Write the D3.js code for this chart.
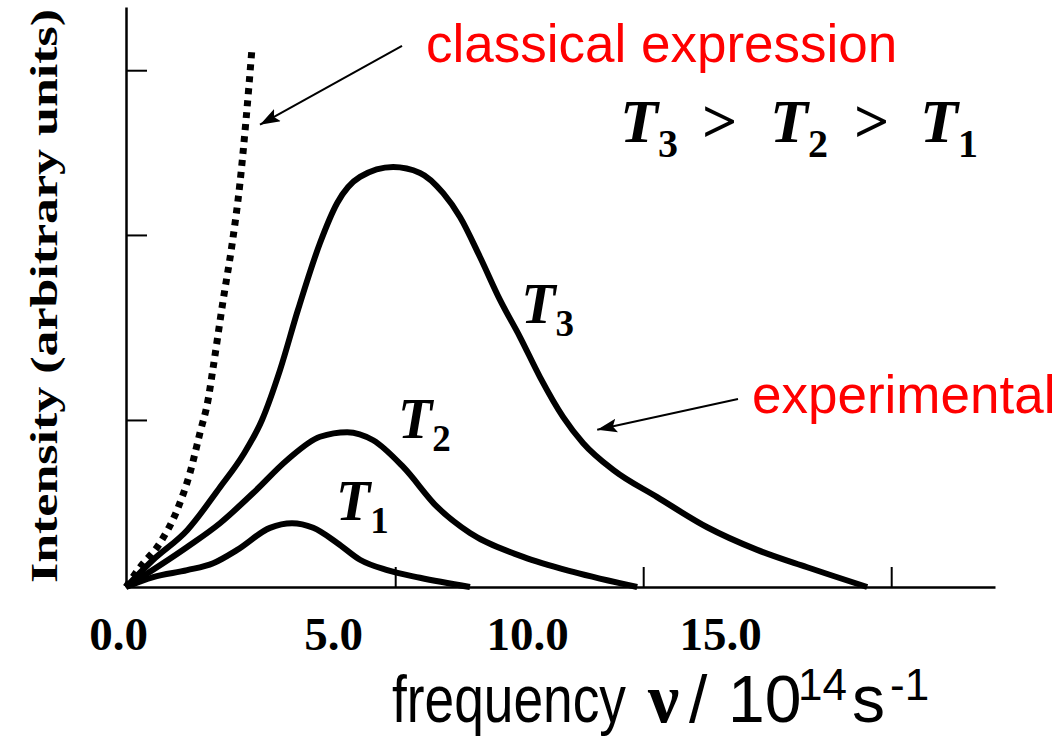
<!DOCTYPE html>
<html>
<head>
<meta charset="utf-8">
<script src="https://cdn.jsdelivr.net/npm/d3@7"></script>
<style>
  body { margin: 0; background: #fff; }
  svg { display: block; }
</style>
</head>
<body>
<div id="chart"></div>
<script>
// frequency (10^14 s^-1) vs intensity (arbitrary units)
var t1 = [[0,0],[0.68,1.7],[1.53,2.9],[2.18,4.1],[2.78,6.4],[3.6,10.2],[4.15,11.0],[4.68,10.2],[5.28,7.6],[5.85,4.7],[6.53,2.9],[7.35,1.6],[8.6,0]]
var t2 = [[0,0],[1.53,6.9],[2.35,11.0],[3.18,16.2],[4.03,21.9],[4.85,25.9],[5.53,26.7],[6.18,25.3],[6.93,20.7],[7.78,13.8],[8.6,9.3],[9.93,5.2],[11.18,2.6],[12.78,0]]
var t3 = [[0,0],[0.68,4.7],[1.53,9.8],[2.35,17.2],[2.93,22.8],[3.4,28.8],[3.85,37.4],[4.3,47.8],[4.85,59.3],[5.28,66.2],[5.85,70.7],[6.68,72.4],[7.35,71.4],[7.93,67.9],[8.35,63.8],[8.85,56.9],[9.35,49.5],[9.85,43.1],[10.35,36.2],[10.93,29.3],[11.43,24.8],[12.18,20.2],[13.28,15.5],[14.53,10.3],[15.78,6.4],[17.03,3.4],[18.53,0]]
var classical = [[0,0],[0.35,3.4],[0.85,7.6],[1.28,13.3],[1.6,19.7],[1.85,26.6],[2.05,32.2],[2.18,37.9],[2.43,49.5],[2.65,59.0],[2.85,69.7],[3.0,80.5],[3.15,92.9]]

var xTickValues = [6.73, 12.93, 19.13]
var xLabelValues = [-0.2, 5.18, 10.03, 14.85]
var xLabelText = ["0.0", "5.0", "10.0", "15.0"]
var yTickValues = [28.8, 60.7, 89.1]

var width = 1059, height = 738

var x = d3.scaleLinear().domain([0, 21.725]).range([126, 995])
var y = d3.scaleLinear().domain([0, 100]).range([587, 7])

var serif = "'Liberation Serif', 'Times New Roman', serif"
var sans = "'Liberation Sans', Arial, sans-serif"

var svg = d3.select("#chart").append("svg")
  .attr("width", width)
  .attr("height", height)

var defs = svg.append("defs")
defs.append("marker")
  .attr("id", "head")
  .attr("markerUnits", "userSpaceOnUse")
  .attr("markerWidth", 24)
  .attr("markerHeight", 16)
  .attr("refX", 20)
  .attr("refY", 7)
  .attr("orient", "auto")
  .append("path")
  .attr("d", "M0,0 L20,7 L0,14 L4,7 Z")
  .attr("fill", "#000")

// axes
var xAxis = d3.axisBottom(x).tickValues(xTickValues).tickSize(-20).tickSizeOuter(0).tickFormat("")
svg.append("g")
  .attr("class", "x axis")
  .attr("transform", "translate(0," + y(0) + ")")
  .call(xAxis)

var xLabels = d3.axisBottom(x).tickValues(xLabelValues).tickSize(0)
  .tickFormat((d, i) => xLabelText[i])
svg.append("g")
  .attr("class", "x labels")
  .attr("transform", "translate(0," + y(0) + ")")
  .call(xLabels)
  .call(g => g.select(".domain").remove())
  .selectAll("text")
  .attr("y", 63)
  .attr("dy", 0)
  .style("font-family", serif)
  .style("font-weight", "bold")
  .style("font-size", "47px")
  .attr("fill", "#000")

var yAxis = d3.axisLeft(y).tickValues(yTickValues).tickSize(-21).tickSizeOuter(0).tickFormat("")
svg.append("g")
  .attr("class", "y axis")
  .attr("transform", "translate(" + x(0) + ",0)")
  .call(yAxis)

svg.selectAll(".axis .domain").attr("stroke", "#000").attr("stroke-width", 2.5)
svg.selectAll(".axis .tick line").attr("stroke", "#000").attr("stroke-width", 2)

// curves
var line = d3.line()
  .x(d => x(d[0]))
  .y(d => y(d[1]))
  .curve(d3.curveMonotoneX)

var curves = svg.append("g").attr("class", "curves")
;[t1, t2, t3].forEach(function(s) {
  curves.append("path")
    .datum(s)
    .attr("d", line)
    .attr("fill", "none")
    .attr("stroke", "#000")
    .attr("stroke-width", 6)
    .attr("stroke-linejoin", "round")
})

curves.append("path")
  .datum(classical)
  .attr("d", line)
  .attr("fill", "none")
  .attr("stroke", "#000")
  .attr("stroke-width", 7)
  .attr("stroke-dasharray", "6,6")

// annotations
var arrows = [
  {from: [6.9, 93.3], to: [3.35, 79.7]},
  {from: [15.3, 32.4], to: [11.78, 27.1]}
]
svg.selectAll("line.arrow")
  .data(arrows)
  .enter().append("line")
  .attr("class", "arrow")
  .attr("x1", d => x(d.from[0]))
  .attr("y1", d => y(d.from[1]))
  .attr("x2", d => x(d.to[0]))
  .attr("y2", d => y(d.to[1]))
  .attr("stroke", "#000")
  .attr("stroke-width", 2)
  .attr("marker-end", "url(#head)")

var notes = [
  {text: "classical expression", at: [7.5, 90.5]},
  {text: "experimental", at: [15.65, 30.0]}
]
svg.selectAll("text.note")
  .data(notes)
  .enter().append("text")
  .attr("class", "note")
  .attr("x", d => x(d.at[0]))
  .attr("y", d => y(d.at[1]))
  .style("font-family", sans)
  .style("font-size", "53px")
  .attr("fill", "#ff0000")
  .text(d => d.text)

// curve labels T1, T2, T3
var curveLabels = [
  {sub: "3", at: [9.88, 45.5]},
  {sub: "2", at: [6.8, 25.7]},
  {sub: "1", at: [5.25, 11.55]}
]
var cl = svg.selectAll("text.tlabel")
  .data(curveLabels)
  .enter().append("text")
  .attr("class", "tlabel")
  .attr("x", d => x(d.at[0]))
  .attr("y", d => y(d.at[1]))
  .style("font-family", serif)
  .style("font-weight", "bold")
cl.append("tspan").style("font-style", "italic").style("font-size", "56px").text("T")
cl.append("tspan").style("font-size", "37px").attr("dy", 13).text(d => d.sub)

// T3 > T2 > T1
var order = svg.append("text")
  .attr("y", 142)
  .style("font-family", serif)
  .style("font-weight", "bold")
  .style("font-size", "62px")
var parts = [
  {x: 620, t: "T", sub: "3"},
  {x: 702, t: ">"},
  {x: 770, t: "T", sub: "2"},
  {x: 854, t: ">"},
  {x: 920, t: "T", sub: "1"}
]
parts.forEach(function(p) {
  order.append("tspan").attr("x", p.x).attr("y", 142)
    .style("font-style", p.t === "T" ? "italic" : "normal")
    .text(p.t)
  if (p.sub) {
    order.append("tspan").attr("y", 157).style("font-size", "40px").text(p.sub)
  }
})

// axis titles
svg.append("text")
  .attr("transform", "translate(57,583) rotate(-90)")
  .attr("textLength", 574)
  .attr("lengthAdjust", "spacingAndGlyphs")
  .style("font-family", serif)
  .style("font-weight", "bold")
  .style("font-size", "38px")
  .text("Intensity (arbitrary units)")

var titleParts = [
  {t: "frequency", x: 392, y: 722, size: 66, len: 234},
  {t: "ν", x: 648, y: 722, size: 70, serif: true},
  {t: "/", x: 689, y: 722, size: 66},
  {t: "10", x: 728, y: 722, size: 66},
  {t: "14", x: 798, y: 700, size: 44},
  {t: "s", x: 852, y: 722, size: 66},
  {t: "-1", x: 890, y: 700, size: 44}
]
var xt = svg.append("g").attr("class", "x title")
titleParts.forEach(function(p) {
  var tx = xt.append("text")
    .attr("x", p.x)
    .attr("y", p.y)
    .style("font-family", p.serif ? serif : sans)
    .style("font-weight", p.serif ? "bold" : "normal")
    .style("font-size", p.size + "px")
    .text(p.t)
  if (p.len) tx.attr("textLength", p.len).attr("lengthAdjust", "spacingAndGlyphs")
})
</script>
</body>
</html>
